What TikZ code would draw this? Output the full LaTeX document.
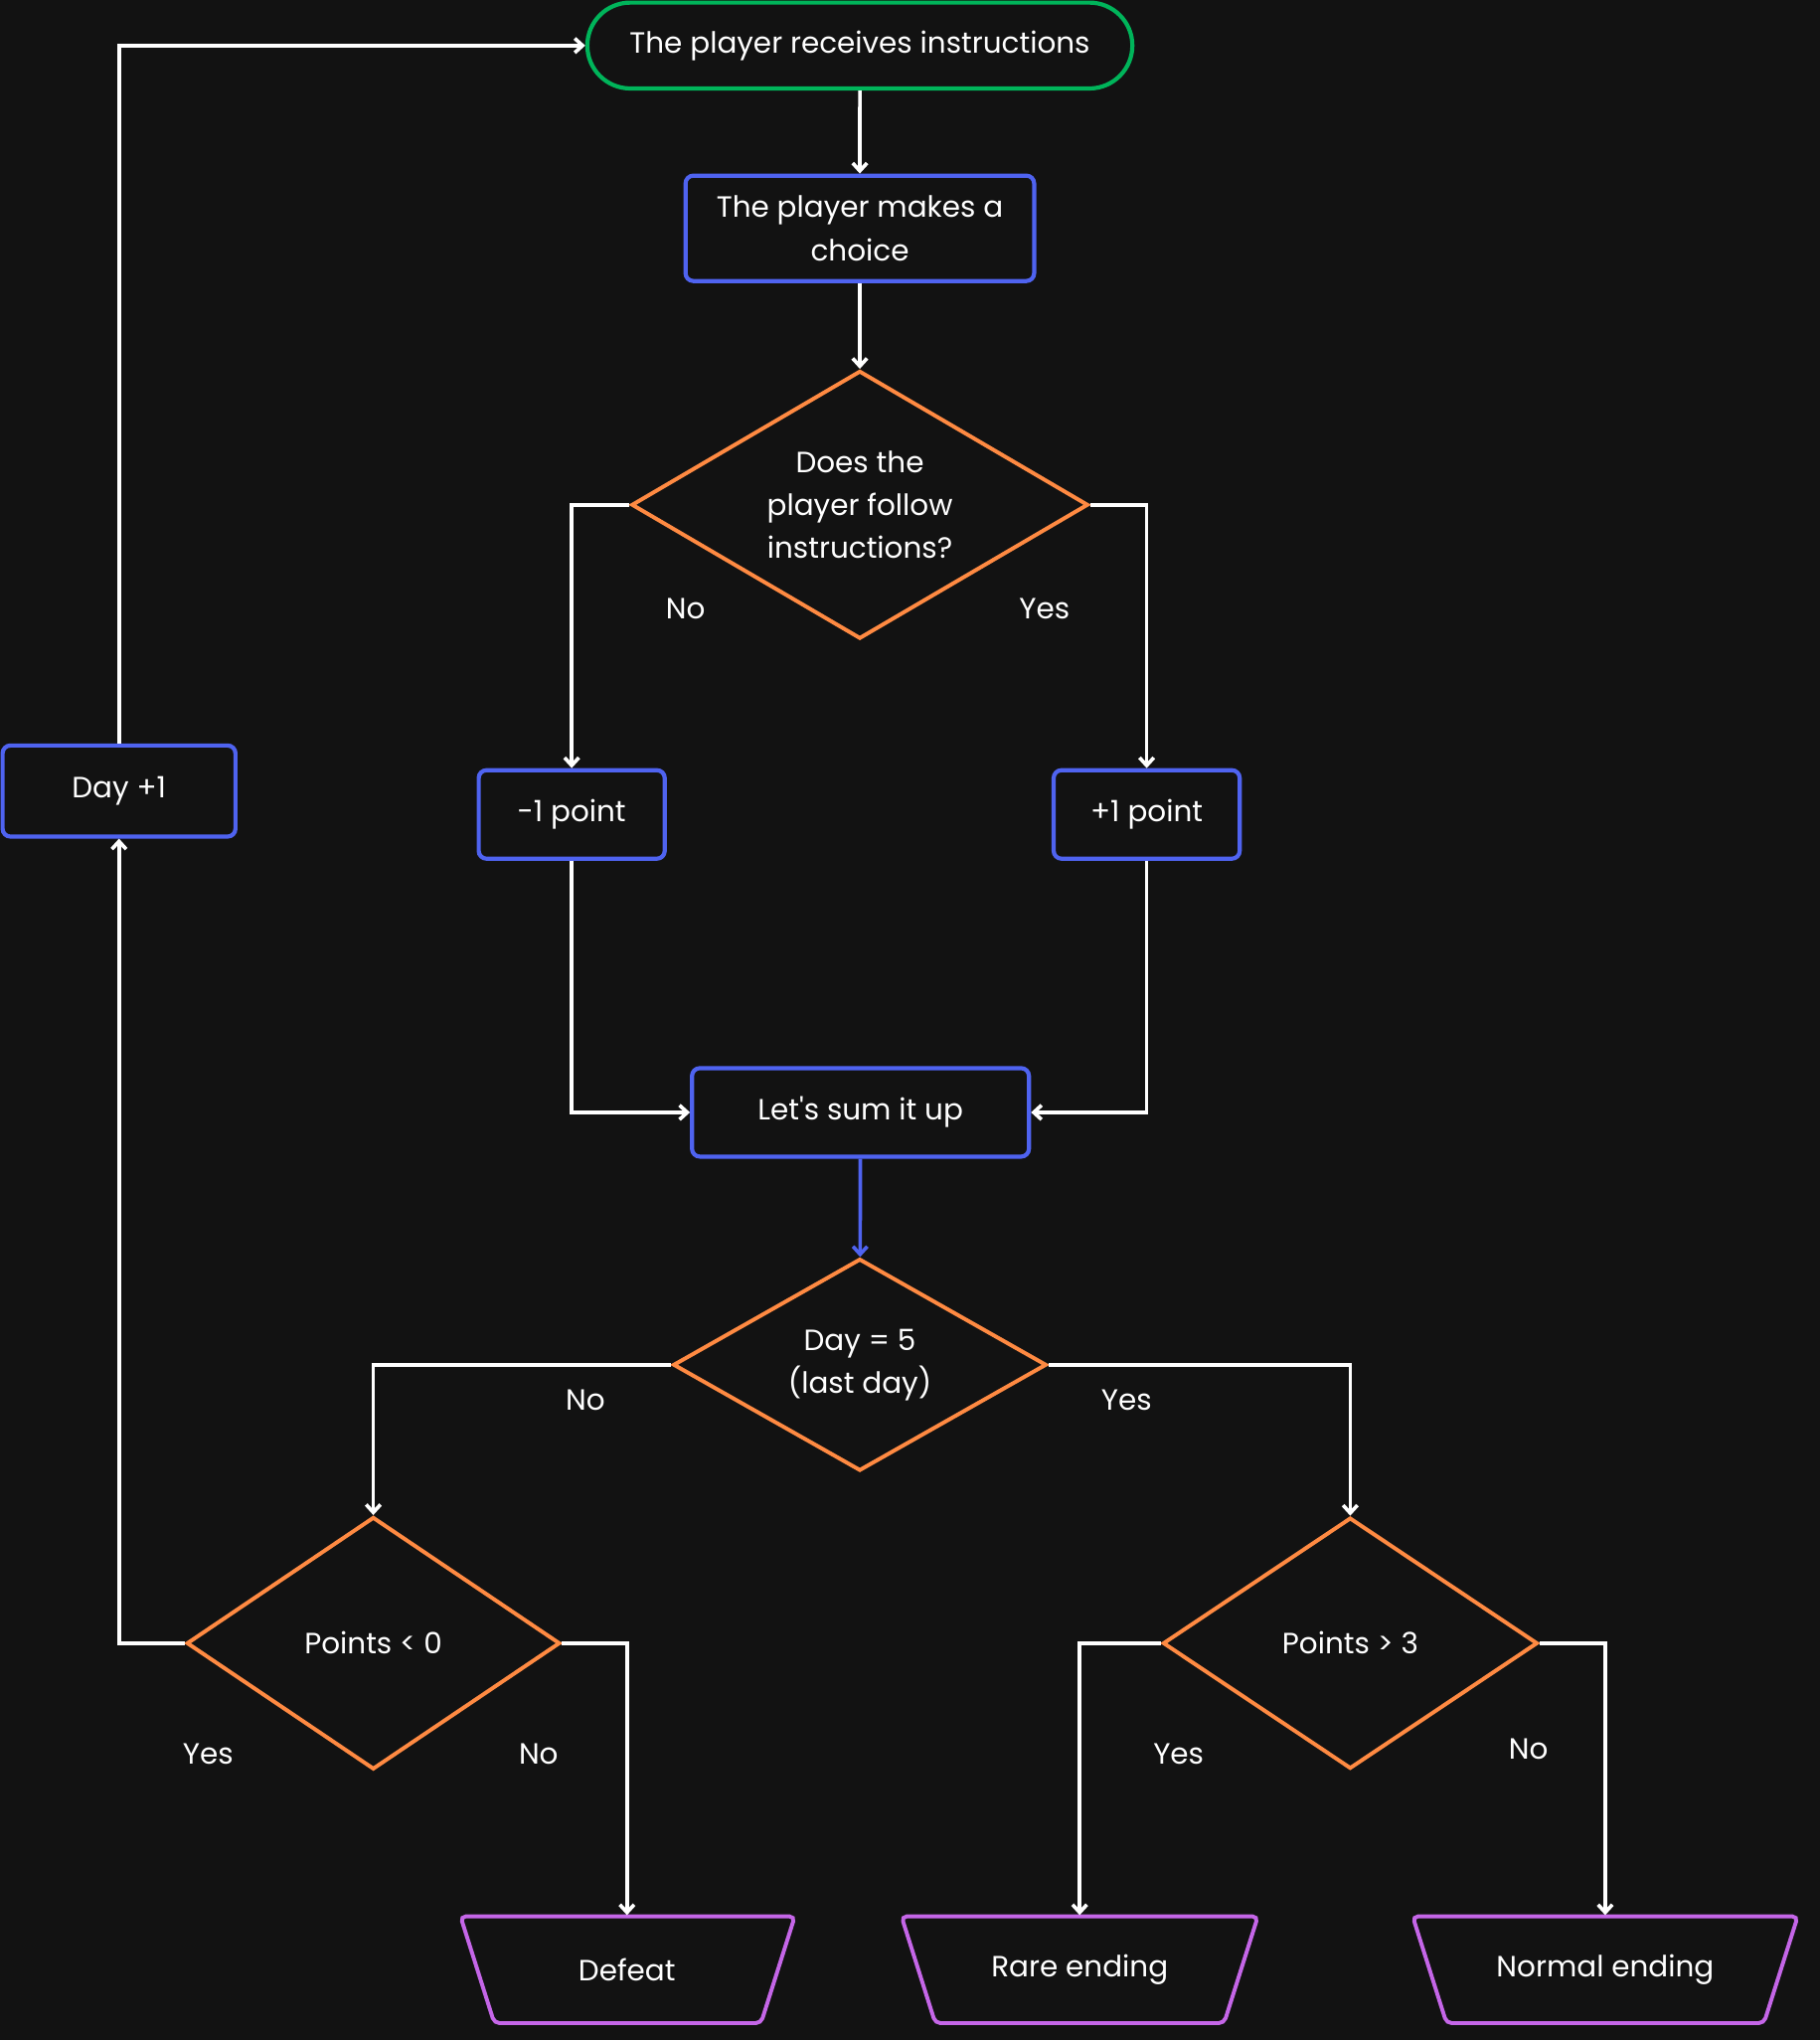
\documentclass[tikz,border=0pt]{standalone}
\usepackage{fontspec}
\setmainfont{Poppins}
\usetikzlibrary{shapes.geometric,shapes.misc,arrows.meta}
\definecolor{bg}{HTML}{121212}
\definecolor{bl}{HTML}{4F63F0}
\definecolor{gr}{HTML}{00B45A}
\definecolor{orr}{HTML}{FF8A42}
\definecolor{pu}{HTML}{C566E8}
\begin{document}
\begin{tikzpicture}[x=1pt,y=-1pt,
  every node/.style={text=white,font=\fontsize{22.5}{33}\selectfont},
  box/.style={draw=bl,line width=3.2pt,rounded corners=6pt,align=center,inner sep=0pt},
  dia/.style={draw=orr,line width=3pt,diamond,aspect=1.7,inner sep=0pt,align=center},
  trap/.style={draw=pu,line width=3pt,rounded corners=4pt},
  con/.style={draw=white,line width=2.8pt,-{Straight Barb[length=6pt,width=11pt]}}]
\fill[bg] (0,0) rectangle (1399,1568);
\useasboundingbox (0,0) rectangle (1399,1568);
\node[draw=gr,line width=3.2pt,rounded rectangle,minimum width=419pt,minimum height=66pt,inner sep=0pt] (s) at (661,35) {The player receives instructions};
\node[box,minimum width=268pt,minimum height=81pt] (c) at (661,175.5) {The player makes a\\choice};
\node[dia,minimum width=351pt,minimum height=206pt] (d1) at (661,388) {Does the\\player follow\\instructions?};
\node[box,minimum width=143pt,minimum height=68pt] (m) at (439.5,626) {-1 point};
\node[box,minimum width=143pt,minimum height=68pt] (p) at (881.5,626) {+1 point};
\node[box,minimum width=259pt,minimum height=68pt] (sum) at (661.5,855) {Let\textquotesingle s sum it up};
\node[dia,minimum width=287pt,minimum height=163pt] (d2) at (661,1049) {Day = 5\\(last day)};
\node[dia,minimum width=287pt,minimum height=194pt] (d3) at (287,1263) {Points < 0};
\node[dia,minimum width=288pt,minimum height=193pt] (d4) at (1038,1263) {Points > 3};
\node[box,minimum width=179pt,minimum height=70pt] (day) at (91.5,608) {Day +1};
\draw[trap] (354,1473) -- (611,1473) -- (585,1555) -- (380,1555) -- cycle;
\draw[trap] (693,1473) -- (967,1473) -- (941,1555) -- (719,1555) -- cycle;
\draw[trap] (1086,1473) -- (1382,1473) -- (1356,1555) -- (1112,1555) -- cycle;
\node (def) at (482,1514) {Defeat};
\node (rare) at (830,1514) {Rare ending};
\node (norm) at (1234,1514) {Normal ending};
\coordinate (deft) at (482,1472);
\coordinate (raret) at (830,1472);
\coordinate (normt) at (1234,1472);
\node at (527,468) {No};
\node at (803,468) {Yes};
\node at (450,1076) {No};
\node at (866,1076) {Yes};
\node at (160,1348) {Yes};
\node at (414,1348) {No};
\node at (906,1348) {Yes};
\node at (1175,1344) {No};
\draw[con] (s) -- (c);
\draw[con] (c) -- (d1);
\draw[con] (d1.west) -| (m.north);
\draw[con] (d1.east) -| (p.north);
\draw[con] (m.south) |- (sum.west);
\draw[con] (p.south) |- (sum.east);
\draw[con,draw=bl] (sum) -- (d2);
\draw[con] (d2.west) -| (d3.north);
\draw[con] (d2.east) -| (d4.north);
\draw[con] (d3.west) -| (day.south);
\draw[con] (day.north) |- (s.west);
\draw[con] (d3.east) -| (deft);
\draw[con] (d4.west) -| (raret);
\draw[con] (d4.east) -| (normt);
\end{tikzpicture}
\end{document}
